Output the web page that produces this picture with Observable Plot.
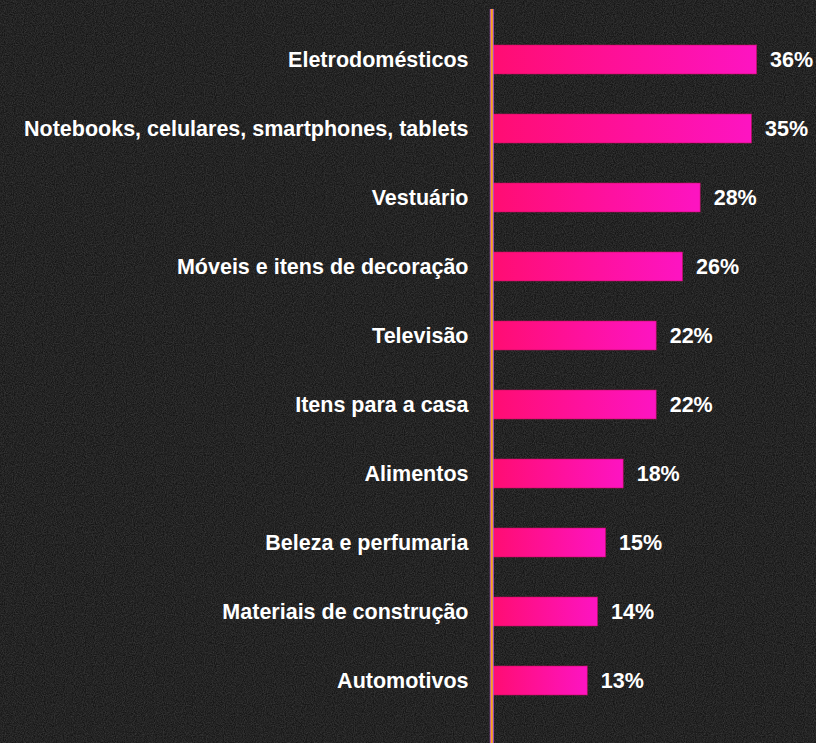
<!DOCTYPE html>
<html>
<head>
<meta charset="utf-8">
<script src="https://cdn.jsdelivr.net/npm/d3@7"></script>
<script src="https://cdn.jsdelivr.net/npm/@observablehq/plot@0.6"></script>
<style>
  html, body { margin: 0; padding: 0; background: #1e1e1e; }
  #chart svg { display: block; }
</style>
</head>
<body>
<div id="chart"></div>
<script>
const categories = [
  "Eletrodomésticos",
  "Notebooks, celulares, smartphones, tablets",
  "Vestuário",
  "Móveis e itens de decoração",
  "Televisão",
  "Itens para a casa",
  "Alimentos",
  "Beleza e perfumaria",
  "Materiais de construção",
  "Automotivos"
];
const values = [36.1, 35.4, 28.4, 26.0, 22.4, 22.4, 17.9, 15.5, 14.4, 13.0];
const valueLabels = ["36%", "35%", "28%", "26%", "22%", "22%", "18%", "15%", "14%", "13%"];

const data = categories.map((c, i) => ({category: c, value: values[i], label: valueLabels[i]}));

const W = 816, H = 743;
const font = "'Liberation Sans', Arial, sans-serif";

const plot = Plot.plot({
  width: W,
  height: H,
  marginLeft: 492,
  marginRight: 0,
  marginTop: 9,
  marginBottom: 0,
  style: {background: "transparent", fontFamily: font},
  x: {domain: [0, 40], range: [492, 492 + 40 * 7.33], axis: null},
  y: {domain: categories, range: [3.8, 736.8], padding: 0.58, axis: null},
  marks: [
    Plot.barX(data, {y: "category", x: "value", fill: "url(#barGrad)", stroke: "#c2105c", strokeWidth: 0.8, strokeOpacity: 0.7}),
    Plot.ruleX([0], {stroke: "#b455d6", strokeWidth: 4, dx: -0.7}),
    Plot.ruleX([0], {stroke: "#f7a21b", strokeWidth: 2, dx: -0.7}),
    Plot.text(data, {y: "category", x: 0, text: "category", dx: -24, textAnchor: "end", fill: "#ffffff", fontSize: 21.5, fontWeight: "bold", fontFamily: font}),
    Plot.text(data, {y: "category", x: "value", text: "label", dx: 13, textAnchor: "start", fill: "#ffffff", fontSize: 21.5, fontWeight: "bold", fontFamily: font})
  ]
});

const svg = d3.select(plot);
const defs = svg.insert("defs", ":first-child");
const g = defs.append("linearGradient").attr("id", "barGrad").attr("x1", 0).attr("y1", 0).attr("x2", 1).attr("y2", 0);
g.append("stop").attr("offset", "0%").attr("stop-color", "#ff0d72");
g.append("stop").attr("offset", "100%").attr("stop-color", "#fd14c2");
const f = defs.append("filter").attr("id", "noise").attr("x", 0).attr("y", 0).attr("width", "100%").attr("height", "100%");
f.append("feTurbulence").attr("type", "fractalNoise").attr("baseFrequency", 0.9).attr("numOctaves", 2).attr("seed", 3).attr("result", "t");
f.append("feColorMatrix").attr("type", "matrix").attr("values", "0 0 0 0 1  0 0 0 0 1  0 0 0 0 1  0.23 0 0 0 -0.051");
const bg = svg.insert("g", "defs + *");
bg.append("rect").attr("width", W).attr("height", H).attr("fill", "#151515");
bg.append("rect").attr("width", W).attr("height", H).attr("filter", "url(#noise)");

document.getElementById("chart").append(plot);
</script>
</body>
</html>
